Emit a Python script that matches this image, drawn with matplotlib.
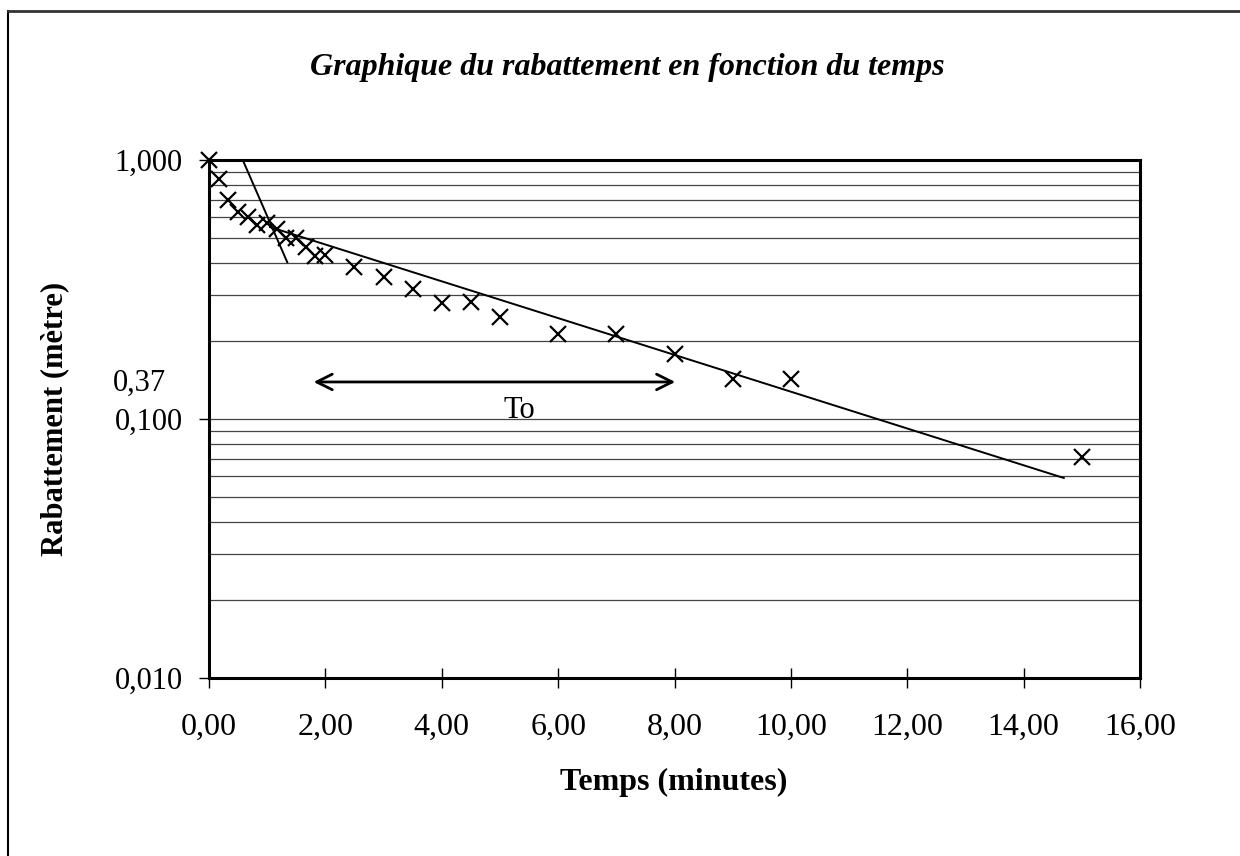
import numpy as np
import matplotlib
matplotlib.use("Agg")
import matplotlib.pyplot as plt
from matplotlib.lines import Line2D
from matplotlib.ticker import FixedLocator, FuncFormatter, LogLocator, NullFormatter

plt.rcParams['font.family'] = ['Liberation Serif', 'DejaVu Serif']

# mesures : temps (minutes) et rabattement (metre)
temps = [0.0, 0.17, 0.33, 0.5, 0.67, 0.83, 1.0, 1.17, 1.33, 1.5, 1.67, 1.83,
         2.0, 2.5, 3.0, 3.5, 4.0, 4.5, 5.0, 6.0, 7.0, 8.0, 9.0, 10.0, 15.0]
rabattement = [1.0, 0.845, 0.70, 0.63, 0.60, 0.56, 0.57, 0.54, 0.50, 0.50, 0.46, 0.426,
               0.43, 0.386, 0.353, 0.318, 0.28, 0.282, 0.248, 0.213, 0.212, 0.178,
               0.143, 0.143, 0.0713]

# droites tracees a la main
droite1_x = [0.58, 1.345]
droite1_y = [1.0, 0.403]
droite2_x = [1.05, 14.69]
droite2_y = [0.551, 0.0592]

# fleche To
fleche_x = [1.75, 8.06]
fleche_y = 0.139

fig = plt.figure(figsize=(12.4, 8.56), dpi=100)
ax = fig.add_axes([209/1240, 1 - 678/856, (1140 - 209)/1240, (678 - 160)/856])

ax.set_yscale('log')
ax.set_xlim(0, 16)
ax.set_ylim(0.01, 1.0)

ax.yaxis.set_major_locator(FixedLocator([0.01, 0.1, 1.0]))
ax.yaxis.set_minor_locator(LogLocator(base=10, subs=np.arange(2, 10)))
ax.yaxis.set_minor_formatter(NullFormatter())
ax.yaxis.set_major_formatter(FuncFormatter(lambda v, p: f"{v:.3f}".replace('.', ',')))
ax.xaxis.set_major_locator(FixedLocator(np.arange(0, 17, 2)))
ax.xaxis.set_major_formatter(FuncFormatter(lambda v, p: f"{v:.2f}".replace('.', ',')))

ax.grid(True, which='both', axis='y', color='#444444', linewidth=0.9)
ax.set_axisbelow(True)

ax.tick_params(axis='y', which='major', direction='out', length=7, width=1,
               labelsize=22, pad=12)
ax.tick_params(axis='y', which='minor', length=0)
ax.tick_params(axis='x', which='major', direction='inout', length=14, width=1,
               labelsize=23, pad=18)
for s in ax.spines.values():
    s.set_linewidth(2.2)

ax.plot(temps, rabattement, linestyle='none', marker='x', markersize=11,
        markeredgewidth=1.6, color='black', clip_on=False, zorder=5)
ax.plot(droite1_x, droite1_y, color='black', linewidth=1.4)
ax.plot(droite2_x, droite2_y, color='black', linewidth=1.4)

ax.annotate('', xy=(fleche_x[0], fleche_y), xytext=(fleche_x[1], fleche_y),
            arrowprops=dict(arrowstyle='<->', color='black', lw=2,
                            mutation_scale=28))
ax.text(5.34, 0.108, 'To', fontsize=22, ha='center', va='center')

ax.text(113/1240, 1 - 383/856, '0,37', transform=fig.transFigure,
        fontsize=22, ha='left', va='center')

fig.text(627/1240, 1 - 67/856, 'Graphique du rabattement en fonction du temps',
         fontsize=23, fontstyle='italic', fontweight='bold', ha='center', va='center')
fig.text(674/1240, 1 - 782/856, 'Temps (minutes)', fontsize=23, fontweight='bold',
         ha='center', va='center')
fig.text(55/1240, 1 - 419/856, 'Rabattement (mètre)', fontsize=22, fontweight='bold',
         rotation=90, ha='center', va='center')

# cadre exterieur (seuls les bords gauche et haut sont visibles)
fig.add_artist(Line2D([8/1240, 8/1240], [0, 1 - 11/856], transform=fig.transFigure,
                      color='black', linewidth=1.5))
fig.add_artist(Line2D([8/1240, 1], [1 - 11/856, 1 - 11/856], transform=fig.transFigure,
                      color='#333333', linewidth=2))

fig.savefig('out.png', dpi=100)
